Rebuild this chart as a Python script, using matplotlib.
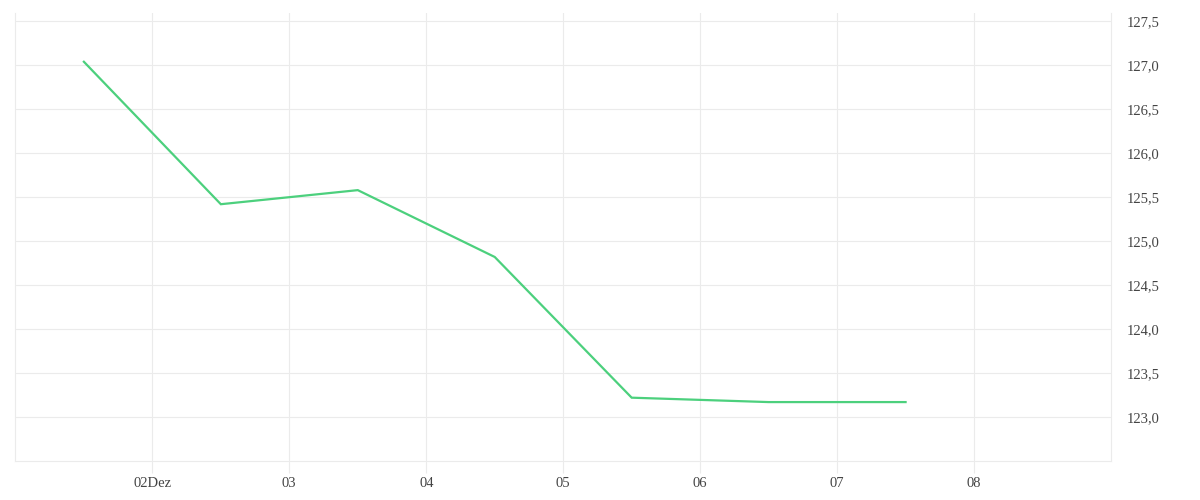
import matplotlib
matplotlib.use("Agg")
import matplotlib.pyplot as plt
import matplotlib.transforms as mtransforms
from datetime import datetime

# Data
dates = [datetime(2021, 12, d, 12) for d in [1, 2, 3, 4, 5, 6, 7]]
values = [127.04, 125.42, 125.58, 124.82, 123.22, 123.17, 123.17]

x_ticks = [datetime(2021, 12, d) for d in [2, 3, 4, 5, 6, 7, 8]]
x_tick_labels = ["02Dez", "03", "04", "05", "06", "07", "08"]
y_ticks = [123.0, 123.5, 124.0, 124.5, 125.0, 125.5, 126.0, 126.5, 127.0, 127.5]
y_tick_labels = [f"{v:.1f}".replace(".", ",") for v in y_ticks]

plt.rcParams['font.family'] = ['Liberation Serif', 'DejaVu Serif']

fig = plt.figure(figsize=(12, 5), dpi=100)
ax = fig.add_axes([15.4 / 1200, 39 / 500, (1111 - 15.4) / 1200, (461 - 12.5) / 500])

grid_c = "#ebebeb"
text_c = "#444444"
ax.plot(dates, values, color="#4cd07d", linewidth=1.6, solid_joinstyle="miter", zorder=3)

ax.set_xlim(datetime(2021, 12, 1), datetime(2021, 12, 9))
ax.set_ylim(122.5, 127.6)

ax.set_xticks(x_ticks)
ax.set_xticklabels(x_tick_labels)
ax.set_yticks(y_ticks)
ax.set_yticklabels(y_tick_labels)
ax.yaxis.tick_right()

ax.grid(True, color=grid_c, linewidth=0.8, zorder=0)
ax.set_axisbelow(True)

ax.spines["top"].set_visible(False)
for s in ["left", "right", "bottom"]:
    ax.spines[s].set_color(grid_c)
    ax.spines[s].set_linewidth(0.8)

ax.tick_params(axis="x", length=8.5, width=0.8, color=grid_c, pad=3,
               labelsize=10.5, labelcolor=text_c)
ax.tick_params(axis="y", length=0, pad=11.5, labelsize=10.5, labelcolor=text_c)
offset = mtransforms.ScaledTranslation(0, -1.5 / 100, fig.dpi_scale_trans)
for lbl in ax.get_yticklabels():
    lbl.set_verticalalignment("center")
    lbl.set_transform(lbl.get_transform() + offset)

fig.savefig("out.png", dpi=100)
